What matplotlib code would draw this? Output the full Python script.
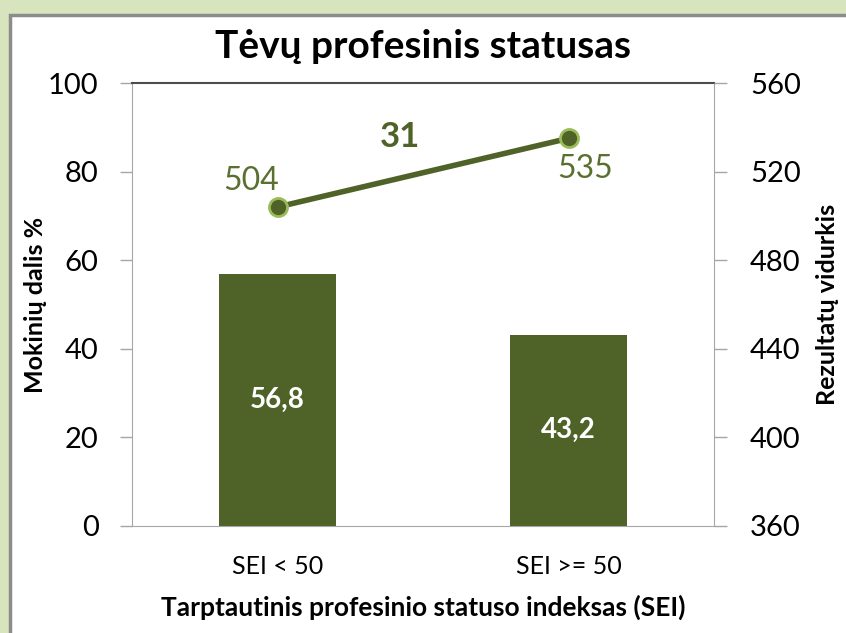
import matplotlib.pyplot as plt
from matplotlib.patches import Rectangle

# data
categories = ['SEI < 50', 'SEI >= 50']
share = [56.8, 43.2]          # Mokinių dalis %
share_labels = ['56,8', '43,2']
scores = [504, 535]           # Rezultatų vidurkis
score_gap = '31'

dark_green = '#4f6228'
light_green = '#9bbb59'
plt.rcParams['font.family'] = ['Lato', 'DejaVu Sans']

fig = plt.figure(figsize=(8.46, 6.33), dpi=100)
fig.patch.set_facecolor('#d7e4bd')

# white slide panel with grey border
fig.patches.append(Rectangle((10 / 846, -0.01), 1.1, 1 - 15 / 633 + 0.01,
                             transform=fig.transFigure, facecolor='white',
                             edgecolor='#8c8c8c', linewidth=2.5, zorder=-10))

ax = fig.add_axes([132 / 846, 1 - 526 / 633, 582 / 846, 443 / 633])
ax.set_facecolor('none')
x = list(range(len(categories)))
ax.bar(x, share, width=0.4, color=dark_green, zorder=2)
for xi, v, lab in zip(x, share, share_labels):
    ax.text(xi, v / 2, lab, ha='center', va='center', color='white',
            fontsize=20, fontweight='bold', zorder=3)

ax.set_xlim(-0.5, 1.5)
ax.set_ylim(0, 100)
ax.set_yticks(range(0, 101, 20))
ax.set_xticks(x)
ax.set_xticklabels(categories, fontsize=18)
ax.tick_params(axis='x', length=0, pad=21)
ax.tick_params(axis='y', length=9, width=1, color='#a6a6a6', labelsize=21, pad=15)
ax.set_ylabel('Mokinių dalis %', fontsize=18, fontweight='bold', labelpad=1)
ax.set_xlabel('Tarptautinis profesinio statuso indeksas (SEI)', fontsize=19,
              fontweight='bold', labelpad=12)
for s in ['left', 'right', 'bottom']:
    ax.spines[s].set_color('#a6a6a6')
ax.spines['top'].set_color('#4d4d4d')
ax.spines['top'].set_linewidth(1.5)

ax2 = ax.twinx()
ax2.set_ylim(360, 560)
ax2.set_yticks(range(360, 561, 40))
ax2.plot(x, scores, color=dark_green, linewidth=4, marker='o', markersize=13,
         markerfacecolor=dark_green, markeredgecolor=light_green,
         markeredgewidth=2, zorder=4)
ax2.annotate(str(scores[0]), (x[0], scores[0]), xytext=(-19, 19),
             textcoords='offset points', ha='center', va='center',
             fontsize=23, color='#5a7030')
ax2.annotate(str(scores[1]), (x[1], scores[1]), xytext=(12, -22),
             textcoords='offset points', ha='center', va='center',
             fontsize=23, color='#5a7030')
ax2.text(0.42, 535.5, score_gap, ha='center', va='center', fontsize=25,
         fontweight='bold', color=dark_green)
ax2.tick_params(axis='y', length=9, width=1, color='#a6a6a6', labelsize=21, pad=17)
ax2.set_ylabel('Rezultatų vidurkis', fontsize=18, fontweight='bold', labelpad=11)
for s in ['left', 'right', 'bottom', 'top']:
    ax2.spines[s].set_visible(False)

fig.text(0.5, 1 - 46 / 633, 'Tėvų profesinis statusas', ha='center',
         va='center', fontsize=28, fontweight='bold')

fig.savefig('out.png', dpi=100, facecolor=fig.get_facecolor())
